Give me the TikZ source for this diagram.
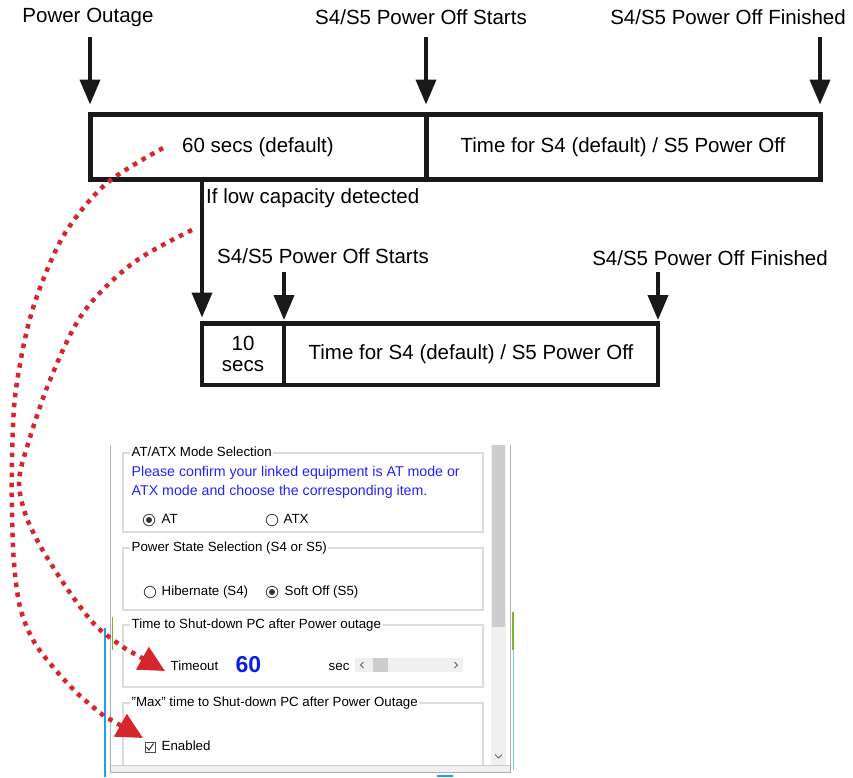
\documentclass[tikz,border=0pt]{standalone}
\usepackage{fontspec}
\setmainfont{Liberation Sans}
\usetikzlibrary{arrows.meta}
\definecolor{dotred}{RGB}{212,38,44}
\definecolor{uiblue}{RGB}{35,35,255}
\definecolor{numblue}{RGB}{10,30,230}
\definecolor{grpgray}{RGB}{220,220,220}
\definecolor{framegray}{RGB}{175,175,175}
\definecolor{trackgray}{RGB}{240,240,240}
\definecolor{thumbgray}{RGB}{205,205,205}
\definecolor{edgeblue}{RGB}{30,160,235}
\definecolor{edgegreen}{RGB}{120,180,50}
\begin{document}
\begin{tikzpicture}[x=1pt,y=-1pt,
  lbl/.style={font=\fontsize{20.5}{24}\selectfont, inner sep=0pt},
  tbox/.style={draw=black!90, line width=5pt, minimum height=65pt, font=\fontsize{20.5}{21}\selectfont, inner sep=0pt, outer sep=0pt, align=center},
  bbox/.style={draw=black!90, line width=4.5pt, minimum height=61.5pt, font=\fontsize{20.5}{21}\selectfont, inner sep=0pt, outer sep=0pt, align=center},
  blackarr/.style={draw=black!90, line width=4pt, -{Triangle[length=25pt,width=20pt]}},
  reddot/.style={draw=dotred, line width=4.5pt, dash pattern=on 4.5pt off 5.5pt, -{Triangle[length=26pt,width=25pt,fill=dotred]}},
  ui/.style={font=\fontsize{13.3}{16}\selectfont, inner sep=1.5pt, anchor=west, text height=9.5pt, text depth=2.5pt},
  grp/.style={draw=grpgray, line width=1.2pt},
  radio/.style={draw=black!70, line width=0.9pt, circle, minimum size=11.5pt, inner sep=0pt, fill=white},
  radiodot/.style={fill=black!80, circle, minimum size=6pt, inner sep=0pt},
]
\useasboundingbox (0,0) rectangle (853,777);

% ---------- timeline ----------
\node[tbox, minimum width=336pt] (b1a) at (258,147) {60 secs (default)};
\node[tbox, minimum width=394pt] (b1b) at (623,147) {Time for S4 (default) / S5 Power Off};
\node[bbox, minimum width=82pt] (b2a) at (243,354.25) {10\\secs};
\node[bbox, minimum width=374pt] (b2b) at (471,354.25) {Time for S4 (default) / S5 Power Off};

\node[lbl] (lPO) at (88,17) {Power Outage};
\node[lbl] (lS1) at (421,17) {S4/S5 Power Off Starts};
\node[lbl] (lF1) at (728,17) {S4/S5 Power Off Finished};
\node[lbl, anchor=west] (lLow) at (206,198) {If low capacity detected};
\node[lbl] (lS2) at (323,256) {S4/S5 Power Off Starts};
\node[lbl] (lF2) at (710,258) {S4/S5 Power Off Finished};

\coordinate (aPO) at (90,37);
\coordinate (aS1) at (426,37);
\coordinate (aF1) at (820,37);
\coordinate (aS2) at (284,272);
\coordinate (aF2) at (658,272);

\draw[blackarr, shorten >=10pt] (aPO) -- (b1a.north west);
\draw[blackarr, shorten >=10pt] (aS1) -- (b1a.north east);
\draw[blackarr, shorten >=10pt] (aF1) -- (b1b.north east);
\draw[blackarr, shorten >=3.5pt] (aS2) -- (b2a.north east);
\draw[blackarr, shorten >=3.5pt] (aF2) -- (b2b.north east);
\draw[blackarr, shorten >=6pt] (b2a.north west |- b1a.south) -- (b2a.north west);

% ---------- screenshot window ----------
\fill[white] (110,445) rectangle (511,772);
\draw[edgeblue, line width=1.5pt] (105,628) -- (105,777);
\draw[edgegreen, line width=1.5pt] (112.5,617) -- (112.5,650);
\draw[edgegreen, line width=2pt] (512.5,612) -- (512.5,650);
\draw[edgeblue!60, line width=1pt] (513,650) -- (513,770);
\draw[edgeblue, line width=2pt] (437,775.5) -- (453,775.5);
% scrollbar
\fill[trackgray] (491,445) rectangle (506,765);
\fill[thumbgray] (492,445) rectangle (505,627);
\draw[black!60, line width=1pt] (495,754.5) -- (498.5,758) -- (502,754.5);
% bottom band
\fill[trackgray] (110,765) rectangle (511,772);
\draw[black!20, line width=1pt] (110,765) -- (511,765);
\draw[framegray, line width=1pt] (110,772.5) -- (511,772.5);
\draw[framegray, line width=1pt] (110.5,445) -- (110.5,773);
\draw[framegray, line width=1pt] (510.5,445) -- (510.5,773);

% group boxes
\draw[grp] (123,453) rectangle (483,532);
\draw[grp] (123,548) rectangle (483,610);
\draw[grp] (123,625) rectangle (483,687);
\draw[grp] (123,765) -- (123,703) -- (483,703) -- (483,765);

\node[ui, fill=white] (g1) at (130,453) {AT/ATX Mode Selection};
\node[ui, fill=white] (g2) at (130,548) {Power State Selection (S4 or S5)};
\node[ui, fill=white] (g3) at (130,625) {Time to Shut-down PC after Power outage};
\node[ui, fill=white] (g4) at (130,703) {\symbol{34}Max\symbol{34} time to Shut-down PC after Power Outage};

\node[ui, text=uiblue, font=\fontsize{14.2}{19}\selectfont, align=left, text height=, text depth=, inner sep=0pt, anchor=north west] (info) at (131.5,465.5)
  {Please confirm your linked equipment is AT mode or\\ATX mode and choose the corresponding item.};

\node[radio] (rAT) at (149,520) {};
\node[radiodot] at (rAT) {};
\node[ui] (tAT) at (160,520) {AT};
\node[radio] (rATX) at (272,520) {};
\node[ui] (tATX) at (282,520) {ATX};

\node[radio] (rHib) at (150,592) {};
\node[ui] (tHib) at (160,592) {Hibernate (S4)};
\node[radio] (rSoft) at (272,592) {};
\node[radiodot] at (rSoft) {};
\node[ui] (tSoft) at (283,592) {Soft Off (S5)};

\node[ui] (tTO) at (169,667) {Timeout};
\node[anchor=west, inner sep=0pt, font=\fontsize{23}{26}\selectfont\bfseries, text=numblue] (t60) at (235.5,665) {60};
\node[ui] (tSec) at (327,667) {sec};
\fill[trackgray] (355,658) rectangle (463,672);
\fill[thumbgray] (373,658) rectangle (388,672);
\draw[black!60, line width=1pt] (363.5,662) -- (360.5,665) -- (363.5,668);
\draw[black!60, line width=1pt] (454.5,662) -- (457.5,665) -- (454.5,668);

\node[draw=black!70, line width=0.9pt, minimum size=10pt, inner sep=0pt, fill=white] (cb) at (150,747) {};
\draw[black!80, line width=1pt] (146.5,747) -- (149,750) -- (153.5,743.5);
\node[ui] (tEn) at (160,747) {Enabled};

% ---------- red dotted connectors ----------
\coordinate (c60) at (163,148);
\coordinate (cLow) at (192,230);
\coordinate (enTip) at (143,738);
\coordinate (toTip) at (165,671);

\draw[reddot] plot[smooth, tension=0.55] coordinates {(c60) (107,183) (67,230) (43,280) (27,330) (15,397) (12,463) (12,513) (14,563) (20,607) (33,640) (53,667) (77,693) (104,716)} -- (enTip);
\draw[reddot] plot[smooth, tension=0.55] coordinates {(cLow) (133,263) (83,313) (50,380) (27,447) (19,482) (25,513) (37,540) (53,567) (73,597) (97,627) (126,649)} -- (toTip);
\end{tikzpicture}
\end{document}
